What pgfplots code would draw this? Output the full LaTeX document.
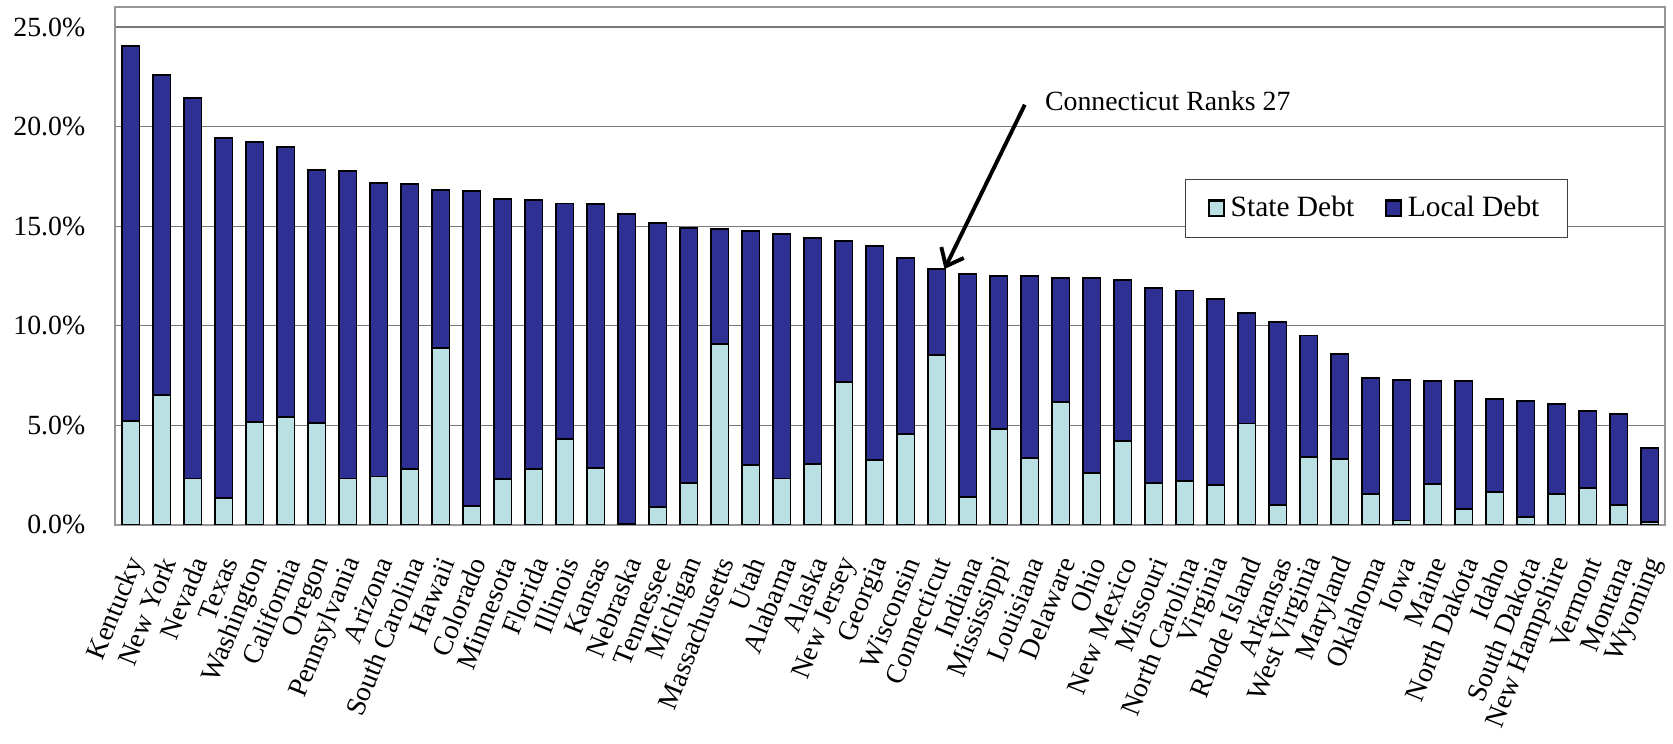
\documentclass[border=0pt]{standalone}
\usepackage{fontspec}
\setmainfont{Liberation Serif}
\usepackage{pgfplots}
\pgfplotsset{compat=1.18}
\usepackage{pgfplotstable}
\usetikzlibrary{arrows.meta}

\definecolor{statedebt}{RGB}{187,224,227}
\definecolor{localdebt}{RGB}{46,48,148}
\definecolor{gridgray}{RGB}{120,120,120}
\definecolor{framegray}{RGB}{150,150,150}

% Debt as a share of personal income, state and local parts (percent)
\pgfplotstableread{
idx state local
0  5.23 18.84
1  6.53 16.04
2  2.33 19.11
3  1.35 18.09
4  5.18 14.07
5  5.40 13.56
6  5.11 12.69
7  2.33 15.44
8  2.43 14.73
9  2.81 14.32
10 8.89  7.94
11 0.95 15.83
12 2.30 14.05
13 2.81 13.49
14 4.32 11.82
15 2.85 13.26
16 0.03 15.60
17 0.92 14.24
18 2.11 12.79
19 9.06  5.82
20 2.99 11.77
21 2.33 12.29
22 3.07 11.36
23 7.17  7.07
24 3.25 10.77
25 4.58  8.80
26 8.55  4.31
27 1.42 11.18
28 4.83  7.67
29 3.37  9.11
30 6.18  6.20
31 2.59  9.79
32 4.20  8.09
33 2.12  9.79
34 2.19  9.58
35 2.02  9.32
36 5.09  5.56
37 0.98  9.21
38 3.42  6.09
39 3.33  5.25
40 1.57  5.82
41 0.22  7.05
42 2.07  5.16
43 0.81  6.41
44 1.64  4.68
45 0.38  5.82
46 1.54  4.54
47 1.83  3.87
48 1.02  4.56
49 0.16  3.72
}\debt

\begin{document}
\begin{tikzpicture}
\begin{axis}[
  name=a,
  scale only axis,
  width=558pt, height=186.6pt,
  xmin=-0.5, xmax=49.5,
  ymin=0, ymax=26.03,
  ybar stacked,
  bar width=6.3pt,
  axis line style={draw=framegray, line width=0.7pt},
  major tick length=0pt,
  ytick={0,5,10,15,20,25},
  /pgf/number format/assume math mode=true,
  yticklabel={\pgfmathprintnumber[fixed,fixed zerofill,precision=1]{\tick}\%},
  yticklabel style={xshift=-7.3pt, font=\fontsize{10}{12}\selectfont},
  ymajorgrids,
  grid style={draw=gridgray, line width=0.45pt},
  xtick={0,...,49},
  xticklabels={Kentucky, New York, Nevada, Texas, Washington, California,
    Oregon, Pennsylvania, Arizona, South Carolina, Hawaii, Colorado,
    Minnesota, Florida, Illinois, Kansas, Nebraska, Tennessee, Michigan,
    Massachusetts, Utah, Alabama, Alaska, New Jersey, Georgia, Wisconsin,
    Connecticut, Indiana, Mississippi, Louisiana, Delaware, Ohio,
    New Mexico, Missouri, North Carolina, Virginia, Rhode Island, Arkansas,
    West Virginia, Maryland, Oklahoma, Iowa, Maine, North Dakota, Idaho,
    South Dakota, New Hampshire, Vermont, Montana, Wyoming},
  xticklabel style={rotate=68, anchor=east, xshift=-7pt, yshift=-6.7pt,
    font=\fontsize{10}{12}\selectfont},
  legend columns=2,
  legend image code/.code={
    \draw[#1, draw=black, line width=0.9pt] (0pt,-2.8pt) rectangle (5.4pt,2.8pt);},
  legend style={
    at={(0.690,0.668)}, anchor=north west,
    draw=black!75, line width=0.5pt,
    font=\fontsize{10.6}{12}\selectfont,
    inner xsep=8pt, inner ysep=4pt,
    /tikz/every even column/.append style={column sep=9pt},
    /tikz/every odd column/.append style={column sep=0pt},
  },
]
\addplot[fill=statedebt, draw=black, line width=0.7pt] table[x=idx, y=state] {\debt};
\addlegendentry{State Debt}
\addplot[fill=localdebt, draw=black, line width=0.7pt] table[x=idx, y=local] {\debt};
\addlegendentry{Local Debt}

% call-out for Connecticut
\draw[line width=1.4pt, -{Straight Barb[length=5.5pt, width=9pt, line width=1.4pt]}]
  (axis cs:28.84,21.1) -- (axis cs:26.25,12.85);
\node[anchor=west, font=\fontsize{10}{12}\selectfont, inner sep=0pt]
  at (axis cs:29.48,21.3) {Connecticut Ranks 27};
\end{axis}
\pgfresetboundingbox
\path[use as bounding box] ([xshift=-41.5pt, yshift=-78.84pt]a.south west)
  rectangle ++(602.3pt, 267.8pt);
\end{tikzpicture}
\end{document}
